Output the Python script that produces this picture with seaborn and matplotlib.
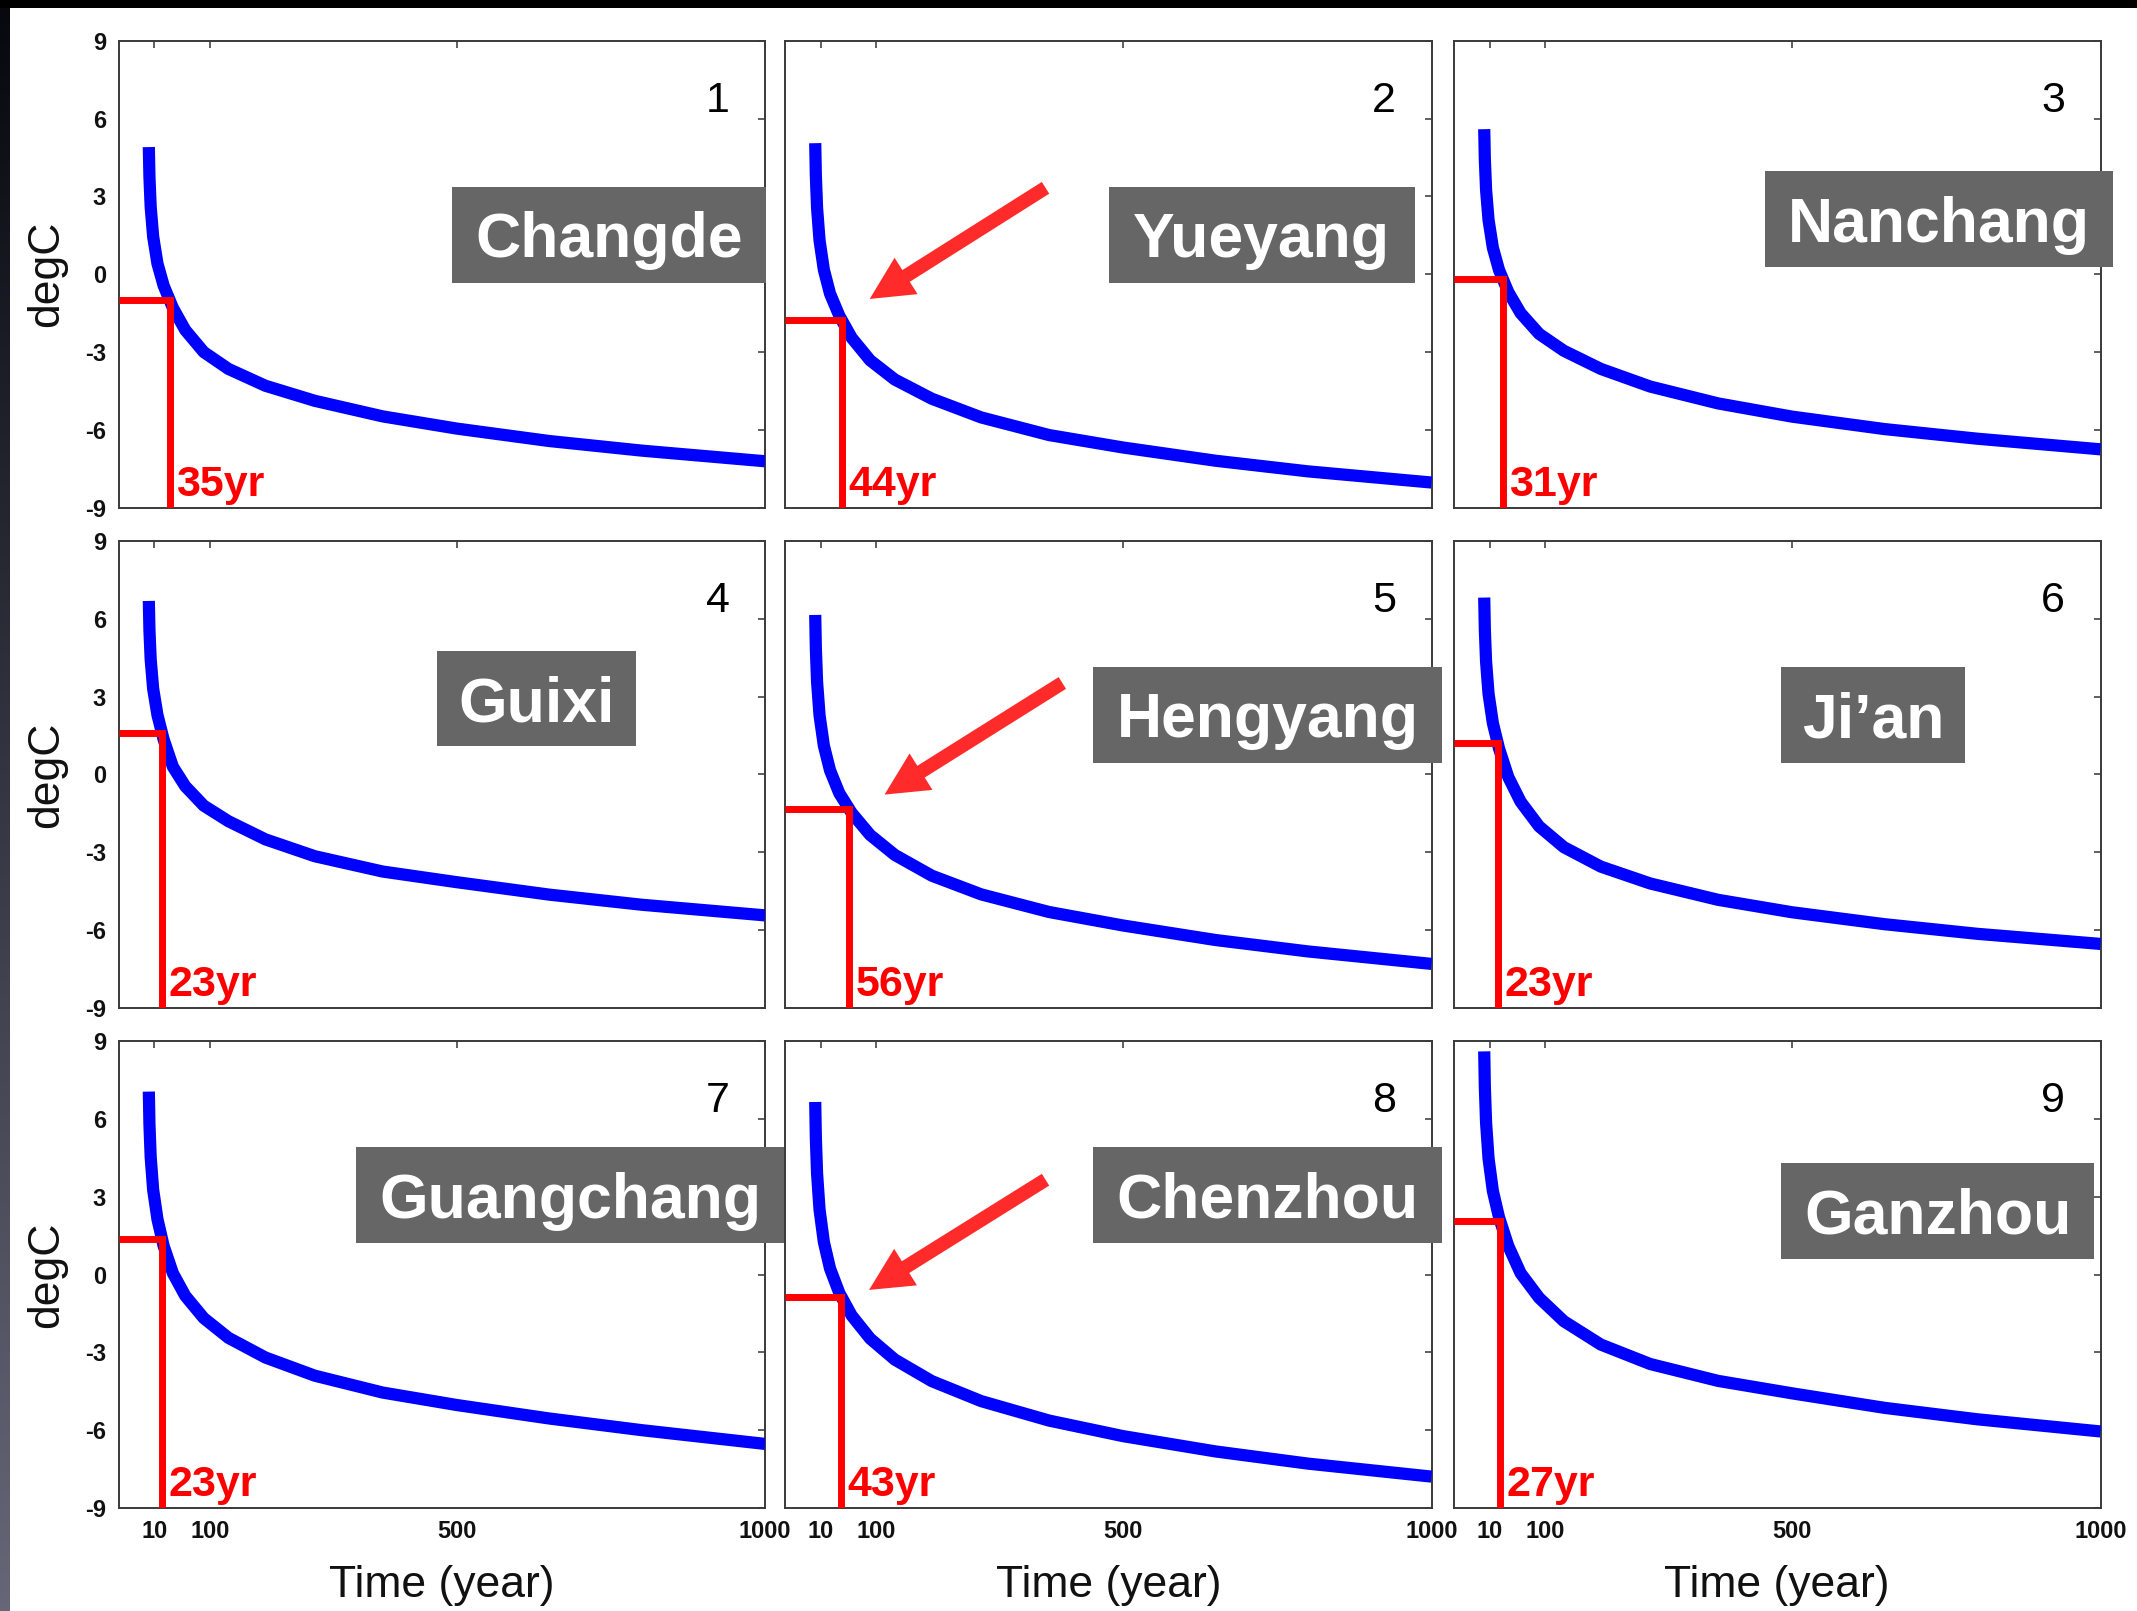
import numpy as np
import pandas as pd
import matplotlib
matplotlib.use("Agg")
import matplotlib.pyplot as plt
import seaborn as sns
from matplotlib.patches import Rectangle

# ---------------------------------------------------------------- data
stations = ["Changde", "Yueyang", "Nanchang",
            "Guixi", "Hengyang", "Ji\u2019an",
            "Guangchang", "Chenzhou", "Ganzhou"]

# time since start (years)
years = [1, 2, 4, 8, 15, 25, 40, 60, 90, 130, 190, 270, 380, 500, 650, 800, 1000]

# temperature response (degC) for each station
changde    = [4.90, 3.75, 2.60, 1.45, 0.41, -0.44, -1.30, -2.15, -3.00, -3.65, -4.30, -4.88, -5.48, -5.95, -6.43, -6.80, -7.21]
yueyang    = [5.05, 3.80, 2.55, 1.30, 0.17, -0.75, -1.60, -2.45, -3.32, -4.06, -4.80, -5.52, -6.20, -6.68, -7.19, -7.60, -8.03]
nanchang   = [5.59, 4.42, 3.25, 2.09, 1.02, 0.16, -0.69, -1.50, -2.30, -2.95, -3.65, -4.33, -4.98, -5.49, -5.97, -6.34, -6.75]
guixi      = [6.69, 5.56, 4.44, 3.31, 2.29, 1.35, 0.30, -0.45, -1.20, -1.80, -2.50, -3.15, -3.74, -4.15, -4.63, -5.02, -5.43]
hengyang   = [6.15, 4.86, 3.57, 2.28, 1.11, 0.16, -0.72, -1.48, -2.33, -3.10, -3.90, -4.62, -5.30, -5.82, -6.38, -6.82, -7.30]
jian       = [6.82, 5.58, 4.35, 3.11, 1.98, 1.00, -0.10, -1.05, -2.00, -2.80, -3.55, -4.20, -4.83, -5.31, -5.77, -6.14, -6.53]
guangchang = [7.05, 5.79, 4.53, 3.27, 2.13, 1.10, 0.05, -0.82, -1.68, -2.44, -3.20, -3.90, -4.55, -5.03, -5.55, -6.00, -6.53]
chenzhou   = [6.65, 5.27, 3.89, 2.50, 1.25, 0.23, -0.71, -1.58, -2.47, -3.28, -4.11, -4.88, -5.63, -6.23, -6.82, -7.29, -7.79]
ganzhou    = [8.60, 7.22, 5.85, 4.47, 3.22, 2.20, 1.10, 0.05, -0.90, -1.80, -2.70, -3.45, -4.10, -4.58, -5.14, -5.58, -6.05]
curves = [changde, yueyang, nanchang, guixi, hengyang, jian, guangchang, chenzhou, ganzhou]

# threshold crossing: year and temperature level
cross_year = [35, 44, 31, 23, 56, 23, 23, 43, 27]
cross_temp = [-1.0, -1.77, -0.2, 1.6, -1.34, 1.22, 1.35, -0.85, 2.05]

x_ticks = [10, 100, 500, 1000]
y_ticks = [-9, -6, -3, 0, 3, 6, 9]

# ---------------------------------------------------------------- layout
W, H, DPI = 2137, 1611, 100
col_left = [118.6, 785.0, 1454.0]
row_top = [40.7, 541.0, 1041.0]
AW, AH = 646.5, 467.0
XMIN, XMAX = -48, 1000

# name boxes in axes fractions: (x0, x1, y0, y1)
name_boxes = [(0.516, 1.001, 0.481, 0.687), (0.501, 0.974, 0.481, 0.687), (0.481, 1.020, 0.515, 0.721),
              (0.492, 0.800, 0.560, 0.764), (0.476, 1.017, 0.525, 0.730), (0.506, 0.791, 0.525, 0.730),
              (0.367, 1.032, 0.568, 0.772), (0.476, 1.016, 0.568, 0.773), (0.506, 0.990, 0.534, 0.739)]

# highlight arrows (tail, tip) in axes fractions
arrows = {1: ((0.403, 0.685), (0.131, 0.447)),
          4: ((0.429, 0.696), (0.154, 0.457)),
          7: ((0.403, 0.703), (0.130, 0.467))}

sns.set_theme(style="white")
plt.rcParams["font.family"] = ["Liberation Sans", "DejaVu Sans"]
plt.rcParams["axes.unicode_minus"] = False

fig = plt.figure(figsize=(W / DPI, H / DPI), dpi=DPI)
fig.patch.set_facecolor("white")

for i in range(9):
    r, c = divmod(i, 3)
    ax = fig.add_axes([col_left[c] / W, 1 - (row_top[r] + AH) / H, AW / W, AH / H])
    ax.set_facecolor("white")

    df = pd.DataFrame({"year": years, "degC": curves[i]})
    sns.lineplot(data=df, x="year", y="degC", ax=ax, color="#0000ff", linewidth=8.8,
                 estimator=None, solid_capstyle="butt", solid_joinstyle="round", zorder=3)

    ty, tv = cross_year[i], cross_temp[i]
    ax.plot([XMIN, ty, ty], [tv, tv, -9], color="#ff0000", lw=5,
            solid_joinstyle="miter", solid_capstyle="butt", zorder=4)
    ax.annotate(f"{ty}yr", xy=(ty, -9), xytext=(4.5, 8.5), textcoords="offset points",
                ha="left", va="baseline", color="#ff0000", fontsize=31, fontweight="bold", zorder=5)

    ax.set_xlim(XMIN, XMAX)
    ax.set_ylim(-9, 9)
    ax.set_xticks(x_ticks)
    ax.set_yticks(y_ticks)
    ax.set_xlabel("")
    ax.set_ylabel("")
    ax.tick_params(direction="in", top=True, right=True, length=5, width=1.2,
                   color="#444444", labelsize=17, pad=9, labelcolor="#111111")
    if r != 2:
        ax.set_xticklabels([])
    else:
        plt.setp(ax.get_xticklabels(), fontweight="bold")
    if c != 0:
        ax.set_yticklabels([])
    else:
        plt.setp(ax.get_yticklabels(), fontweight="bold")
    for s in ax.spines.values():
        s.set_visible(True)
        s.set_color("#3a3a3a")
        s.set_linewidth(1.4)

    # panel number
    ax.text(0.945, 0.847, str(i + 1), transform=ax.transAxes, ha="right", va="baseline",
            fontsize=31, color="black", zorder=6)

    # station name on a grey plate
    x0, x1, y0, y1 = name_boxes[i]
    ax.add_patch(Rectangle((x0, y0), x1 - x0, y1 - y0, transform=ax.transAxes,
                           facecolor="#666666", edgecolor="none", clip_on=False, zorder=7))
    ax.text((x0 + x1) / 2, (y0 + y1) / 2 - 0.048, stations[i], transform=ax.transAxes,
            ha="center", va="baseline", color="white", fontsize=45, fontweight="bold",
            clip_on=False, zorder=8)

    if i in arrows:
        tail, tip = arrows[i]
        ax.annotate("", xy=tip, xytext=tail, xycoords="axes fraction",
                    arrowprops=dict(arrowstyle="simple,head_length=3.1,head_width=3.1,tail_width=1.0",
                                    mutation_scale=10, color="#ff2b2b", lw=0,
                                    shrinkA=0, shrinkB=0), zorder=6)

# axis titles
for r in range(3):
    yc = 1 - (row_top[r] + AH / 2) / H
    fig.text(47 / W, yc, "degC", rotation=90, ha="center", va="center", fontsize=32, color="#111111")
for c in range(3):
    xc = (col_left[c] + AW / 2) / W
    fig.text(xc, 1 - 1586 / H, "Time (year)", ha="center", va="center", fontsize=32, color="#111111")

# dark frame strips along the top and left edges
edge = fig.add_axes([0, 0, 10 / W, 1], zorder=-1)
grad = np.linspace(0, 1, 256)[:, None]
top_col = np.array([0.03, 0.03, 0.06])
bot_col = np.array([0.40, 0.40, 0.47])
img = top_col[None, None, :] * (1 - grad[..., None]) + bot_col[None, None, :] * grad[..., None]
edge.imshow(img, aspect="auto", extent=[0, 1, 0, 1], origin="upper")
edge.set_axis_off()
fig.patches.append(Rectangle((0, 1 - 8 / H), 1, 8 / H, transform=fig.transFigure,
                             facecolor="black", edgecolor="none", zorder=10))

fig.savefig("out.png", dpi=DPI)
